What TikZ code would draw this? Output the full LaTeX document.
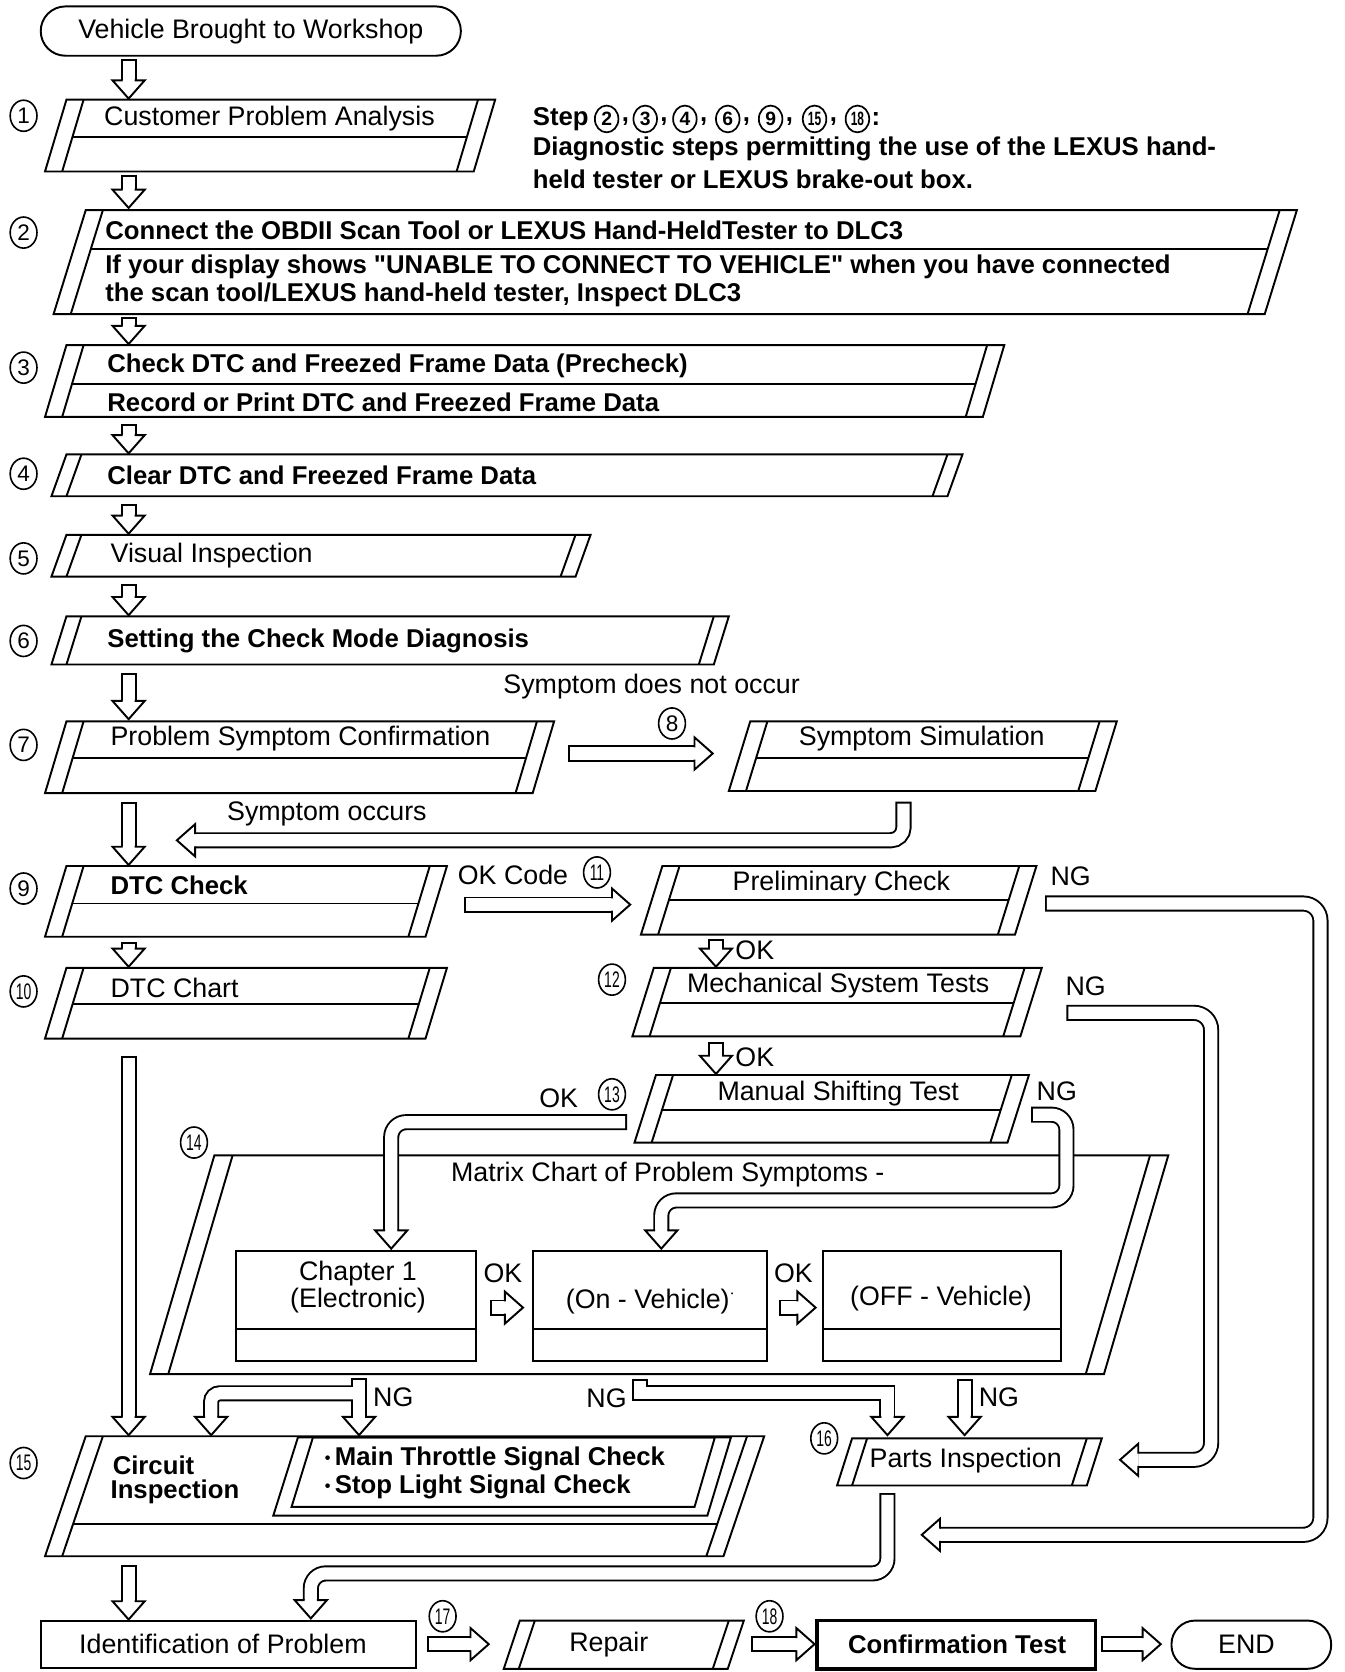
\documentclass[tikz,border=0pt]{standalone}
\usepackage{fontspec}
\setmainfont{Liberation Sans}
\usetikzlibrary{calc,shapes.geometric}
\newcommand\pg[7]{%
 \draw[ln] (#1,#2) -- (#3,#2) -- ({#3-#5},#4) -- ({#1-#5},#4) -- cycle;
 \draw[ln] ({#1+#6},#2) -- ({#1+#6-#5},#4);
 \draw[ln] ({#3-#6},#2) -- ({#3-#6-#5},#4);
 \ifdim#7pt>0pt \draw[ln] ({#1+#6-#5*(#7-#2)/(#4-#2)},#7) -- ({#3-#6-#5*(#7-#2)/(#4-#2)},#7);\fi}
\newcommand\band[2][]{%
 \draw[line width=15, line cap=butt, #1] #2;
 \draw[line width=11.4, white, line cap=butt, shorten <=1.8, #1] #2;}
\newcommand\ahead[3]{%
 \begin{scope}[shift={(#1,#2)}, rotate=#3]
 \fill[white] (-17,-15) -- (0,0) -- (-17,15) -- cycle;
 \draw[ln] (-17,-5.7) -- (-17,-15) -- (0,0) -- (-17,15) -- (-17,5.7);
 \end{scope}}
\newcommand\varr[3]{\band{(#1,#2) -- (#1,{#3-16})}\ahead{#1}{#3}{-90}}
\newcommand\harr[3]{\band{(#2,#1) -- ({#3-16},#1)}\ahead{#3}{#1}{0}}
\newcommand\sq[1]{\scalebox{0.62}[1]{#1}}
\newcommand\bul{{\fontsize{15}{15}\selectfont\raisebox{1.5pt}{\textbullet}}\,}
\begin{document}
\begin{tikzpicture}[x=1pt,y=-1pt, line join=miter,
 ln/.style={line width=1.8},
 txt/.style={font=\fontsize{25}{28}\selectfont, inner sep=0, anchor=west},
 ctxt/.style={font=\fontsize{25}{28}\selectfont, inner sep=0},
 btxt/.style={font=\fontsize{24}{27}\selectfont\bfseries, inner sep=0, anchor=west},
 num/.style={ellipse, draw, line width=1.5, minimum width=25, minimum height=29, inner sep=0, font=\fontsize{21}{21}\selectfont},
 snum/.style={ellipse, draw, line width=1.6, minimum width=22, minimum height=25, inner sep=0, font=\fontsize{18}{18}\selectfont\bfseries}]
\useasboundingbox[fill=white] (0,0) rectangle (1254,1560);

% ---- start oval
\draw[ln, rounded corners=23] (38,6) rectangle (430,52);
\node[ctxt] (start) at (234,29) {Vehicle Brought to Workshop};

% ---- boxes
\pg{62}{93}{462}{160}{20}{16}{128}
\node[txt] (b1) at (97,111) {Customer Problem Analysis};
\pg{80}{196}{1210}{293}{30}{16}{232}
\node[btxt] (b2a) at (98,215) {Connect the OBDII Scan Tool or LEXUS Hand-HeldTester to DLC3};
\node[btxt] (b2b) at (98,249) {If your display shows \textquotedbl UNABLE TO CONNECT TO VEHICLE\textquotedbl\ when you have connected};
\node[btxt] (b2c) at (98,275) {the scan tool/LEXUS hand-held tester, Inspect DLC3};
\pg{62}{322}{937}{389}{20}{16}{358}
\node[btxt] (b3a) at (100,341) {Check DTC and Freezed Frame Data (Precheck)};
\node[btxt] (b3b) at (100,375) {Record or Print DTC and Freezed Frame Data};
\pg{62}{424}{898}{463}{14}{14}{0}
\node[btxt] (b4) at (100,443) {Clear DTC and Freezed Frame Data};
\pg{62}{499}{551}{538}{14}{14}{0}
\node[txt] (b5) at (103,518) {Visual Inspection};
\pg{62}{575}{680}{620}{14}{14}{0}
\node[btxt] (b6) at (100,598) {Setting the Check Mode Diagnosis};
\pg{62}{673}{517}{740}{20}{16}{707}
\node[txt] (b7) at (103,689) {Problem Symptom Confirmation};
\pg{700}{673}{1042}{738}{20}{16}{707}
\node[ctxt] (b8) at (860,689) {Symptom Simulation};
\pg{62}{808}{417}{874}{20}{16}{843}
\node[btxt] (b9) at (103,826) {DTC Check};
\pg{62}{903}{417}{969}{20}{16}{937}
\node[txt] (b10) at (103,922) {DTC Chart};
\pg{618}{808}{967}{872}{20}{16}{840}
\node[ctxt] (b11) at (785,824) {Preliminary Check};
\pg{610}{903}{972}{967}{20}{16}{936}
\node[ctxt] (b12) at (782,920) {Mechanical System Tests};
\pg{612}{1003}{960}{1066}{20}{16}{1036}
\node[ctxt] (b13) at (782,1020) {Manual Shifting Test};
\pg{200}{1078}{1090}{1282}{60}{17}{0}
\node[ctxt] (b14) at (623,1096) {Matrix Chart of Problem Symptoms -};
\draw[ln] (220,1167) rectangle (444,1270) (220,1240) -- (444,1240);
\draw[ln] (497,1167) rectangle (716,1270) (497,1240) -- (716,1240);
\draw[ln] (768,1167) rectangle (990,1270) (768,1240) -- (990,1240);
\node[ctxt] (c1a) at (334,1188) {Chapter 1};
\node[ctxt] (c1b) at (334,1213) {(Electronic)};
\node[ctxt] (c2) at (607,1214) {(On - Vehicle)$^{\cdot}$};
\node[ctxt] (c3) at (878,1212) {(OFF - Vehicle)};

% box 15
\draw[ln] (80,1340) -- (713,1340) -- (675,1452) -- (42,1452) -- cycle;
\draw[ln] (96,1340) -- (58,1452) (697,1340) -- (659,1452);
\draw[ln] (68,1422) -- (669,1422);
\draw[ln, fill=white] (278,1341) -- (682,1341) -- (660,1414) -- (255,1414) -- cycle;
\draw[ln] (292,1341) -- (667,1341) -- (648,1406) -- (272,1406) -- cycle;
\node[btxt] (b15a) at (105,1367) {Circuit};
\node[btxt] (b15b) at (103,1392) {Inspection};
\node[btxt] (b15c) at (303,1361) {\bul Main Throttle Signal Check};
\node[btxt] (b15d) at (303,1387) {\bul Stop Light Signal Check};

\pg{795}{1342}{1028}{1386}{14}{14}{0}
\node[ctxt] (b16) at (901,1363) {Parts Inspection};

\draw[ln] (38,1512) rectangle (388,1556);
\node[ctxt] (b17a) at (208,1534) {Identification of Problem};
\pg{485}{1512}{694}{1557}{15}{14}{0}
\node[ctxt] (b17b) at (568,1534) {Repair};
\draw[line width=3.4] (762,1512) rectangle (1022,1557);
\node[ctxt, font=\fontsize{24}{27}\selectfont\bfseries] (b18) at (893,1534) {Confirmation Test};
\draw[ln, rounded corners=22] (1093,1512) rectangle (1242,1557);
\node[ctxt] (end) at (1163,1534) {END};

% ---- circled numbers
\node[num] (n1) at (22,108) {1};
\node[num] (n2) at (22,217) {2};
\node[num] (n3) at (22,343) {3};
\node[num] (n4) at (22,442) {4};
\node[num] (n5) at (22,521) {5};
\node[num] (n6) at (22,598) {6};
\node[num] (n7) at (22,695) {7};
\node[num] (n8) at (627,675) {8};
\node[num] (n9) at (22,829) {9};
\node[num] (n10) at (22,925) {\sq{10}};
\node[num] (n11) at (557,814) {\sq{11}};
\node[num] (n12) at (571,914) {\sq{12}};
\node[num] (n13) at (571,1021) {\sq{13}};
\node[num] (n14) at (181,1066) {\sq{14}};
\node[num] (n15) at (22,1365) {\sq{15}};
\node[num] (n16) at (769,1342) {\sq{16}};
\node[num] (n17) at (413,1508) {\sq{17}};
\node[num] (n18) at (718,1508) {\sq{18}};

% ---- step note
\node[btxt] (step) at (497,111) {Step};
\foreach \x/\t in {566/2,602/3,639/4,679/6,719/9,760/15,800/18}{
  \node[snum] (s\t) at (\x,111) {\ifnum\t>9 \sq{\t}\else\t\fi};
}
\foreach \x in {580,616,653,693,733,774}{\node[btxt] (cm\x) at (\x,113) {,};}
\node[btxt] (colon) at (813,111) {:};
\node[btxt] (note1) at (497,139) {Diagnostic steps permitting the use of the LEXUS hand-};
\node[btxt] (note2) at (497,167) {held tester or LEXUS brake-out box.};

% ---- labels
\node[ctxt] (l1) at (608,641) {Symptom does not occur};
\node[ctxt] (l2) at (305,759) {Symptom occurs};
\node[txt] (l3) at (427,816) {OK Code};
\node[txt] (l4) at (980,818) {NG};
\node[txt] (l5) at (686,887) {OK};
\node[txt] (l6) at (994,920) {NG};
\node[txt] (l7) at (686,986) {OK};
\node[txt] (l8) at (503,1025) {OK};
\node[txt] (l9) at (967,1018) {NG};
\node[txt] (l10) at (451,1188) {OK};
\node[txt] (l11) at (722,1188) {OK};
\node[txt] (l12) at (348,1304) {NG};
\node[txt] (l13) at (547,1305) {NG};
\node[txt] (l14) at (913,1304) {NG};

% ---- straight arrows
\varr{120}{55}{92}
\varr{120}{163}{194}
\varr{120}{296}{321}
\varr{120}{396}{423}
\varr{120}{470}{498}
\varr{120}{545}{574}
\varr{120}{628}{671}
\varr{120}{748}{807}
\varr{120}{879}{902}
\varr{120}{985}{1339}
\varr{120}{1460}{1511}
\varr{668}{876}{902}
\varr{668}{972}{1002}
\varr{900}{1287}{1339}
\harr{703}{530}{665}
\harr{844}{433}{588}
\harr{1220}{457}{488}
\harr{1220}{727}{761}
\harr{1534}{398}{456}
\harr{1534}{701}{760}
\harr{1534}{1027}{1083}

% ---- bent arrows
\band[rounded corners=12]{(843,748) -- (843,784) -- (181,784)}
\ahead{165}{784}{180}
\band[rounded corners=16]{(975,843) -- (1232,843) -- (1232,1432) -- (877,1432)}
\ahead{860}{1432}{180}
\band[rounded corners=16]{(995,945) -- (1130,945) -- (1130,1362) -- (1062,1362)}
\ahead{1045}{1362}{180}
\band[rounded corners=14]{(585,1047) -- (365,1047) -- (365,1149)}
\ahead{365}{1165}{-90}
\band[rounded corners=14]{(962,1040) -- (995,1040) -- (995,1120) -- (617,1120) -- (617,1149)}
\ahead{617}{1165}{-90}
% fork NG
\draw[line width=15] (335,1286) -- (335,1323);
\draw[line width=15, rounded corners=8] (335,1300) -- (197,1300) -- (197,1323);
\draw[line width=11.4, white] (335,1287.8) -- (335,1323);
\draw[line width=11.4, white, rounded corners=8] (335,1300) -- (197,1300) -- (197,1323);
\ahead{335}{1339}{-90}
\ahead{197}{1339}{-90}
\band{(597,1287) -- (597,1300) -- (828,1300) -- (828,1323)}
\ahead{828}{1339}{-90}
\band[rounded corners=14]{(828,1393) -- (828,1468) -- (290,1468) -- (290,1494)}
\ahead{290}{1510}{-90}
\end{tikzpicture}
\end{document}
